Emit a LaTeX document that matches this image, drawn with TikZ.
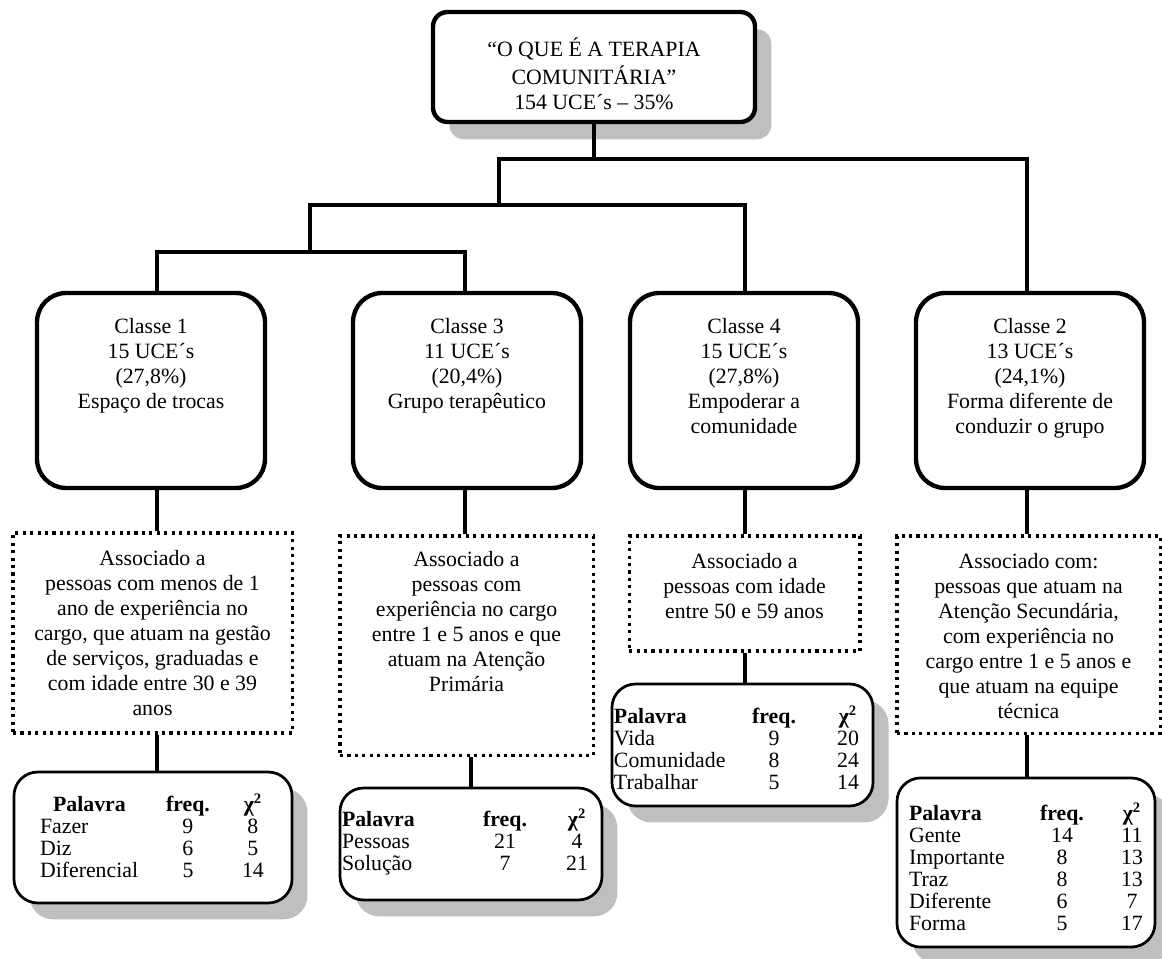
\documentclass[tikz,border=0pt]{standalone}
\usepackage{fontspec}
\setmainfont{Liberation Serif}
\usepackage{array}
\usepackage{tikz}
\usetikzlibrary{shadows}

\newcolumntype{L}[1]{>{\raggedright\arraybackslash}p{#1}}
\newcolumntype{C}[1]{>{\centering\arraybackslash}p{#1}}
% text set from the top of a box of fixed size
\newcommand{\boxtext}[4]{\parbox[c][#1][t]{#2}{\centering\vspace*{#3}\strut #4}}
% word table: height, width, top pad, indent, first column, other columns, header indent, rows
\newcommand{\tabela}[8]{\parbox[c][#1][t]{#2}{\vspace*{#3}\hspace*{#4}\fontsize{12}{12.1}\selectfont%
  \begin{tabular}[t]{@{}L{#5}@{}C{#6}@{}C{#6}@{}}%
  \hspace*{#7}\textbf{Palavra} & \textbf{freq.} & \textbf{χ\textsuperscript{2}}\\
  #8
  \end{tabular}}}

\begin{document}
\begin{tikzpicture}[x=0.55pt, y=-0.55pt,
    every node/.style={inner sep=0pt, font=\fontsize{12}{13.75}\selectfont},
    tema/.style={draw, line width=2.4pt, rounded corners=8pt, fill=white,
      drop shadow={shadow xshift=9pt, shadow yshift=-9.5pt, fill=black!25, opacity=1}},
    classe/.style={draw, line width=2.4pt, rounded corners=16pt},
    assoc/.style={draw, line width=1.7pt, dash pattern=on 1.7pt off 2.4pt},
    tabela/.style={draw, line width=1.5pt, rounded corners=13pt, fill=white,
      drop shadow={shadow xshift=8.5pt, shadow yshift=-9pt, fill=black!25, opacity=1}},
    link/.style={line width=1.8pt}]

    \useasboundingbox (0,0) rectangle (1162,959);

    % tema geral
    \node[tema] (tema) at (594,67)
      {\boxtext{60.5pt}{177.1pt}{14pt}{“O QUE É A TERAPIA\\COMUNITÁRIA”\\154 UCE´s – 35\%}};

    % classes
    \node[classe] (c1) at (151,390.5)
      {\boxtext{107.25pt}{125.4pt}{12.9pt}{Classe 1\\15 UCE´s\\(27,8\%)\\Espaço de trocas}};
    \node[classe] (c3) at (467,390.5)
      {\boxtext{107.25pt}{125.4pt}{12.9pt}{Classe 3\\11 UCE´s\\(20,4\%)\\Grupo terapêutico}};
    \node[classe] (c4) at (744,390.5)
      {\boxtext{107.25pt}{125.4pt}{12.9pt}{Classe 4\\15 UCE´s\\(27,8\%)\\Empoderar a\\comunidade}};
    \node[classe] (c2) at (1030,390.5)
      {\boxtext{107.25pt}{125.4pt}{12.9pt}{Classe 2\\13 UCE´s\\(24,1\%)\\Forma diferente de\\conduzir o grupo}};

    % variaveis associadas
    \node[assoc] (d1) at (152.5,633)
      {\boxtext{110pt}{153.5pt}{8pt}{Associado a\\pessoas com menos de 1\\ano de experiência no\\cargo, que atuam na gestão\\de serviços, graduadas e\\com idade entre 30 e 39\\anos}};
    \node[assoc] (d2) at (466.5,645.5)
      {\boxtext{120.5pt}{139.2pt}{7.4pt}{Associado a\\pessoas com\\experiência no cargo\\entre 1 e 5 anos e que\\atuam na Atenção\\Primária}};
    \node[assoc] (d3) at (744.5,593.5)
      {\boxtext{63.25pt}{127pt}{8.5pt}{Associado a\\pessoas com idade\\entre 50 e 59 anos}};
    \node[assoc] (d4) at (1028.5,634.5)
      {\boxtext{108.4pt}{144.7pt}{8.5pt}{Associado com:\\pessoas que atuam na\\Atenção Secundária,\\com experiência no\\cargo entre 1 e 5 anos e\\que atuam na equipe\\técnica}};

    % palavras
    \node[tabela] (t1) at (153,837.5)
      {\tabela{72pt}{152.9pt}{12.1pt}{14.3pt}{63.5pt}{35.75pt}{7.2pt}
        {Fazer & 9 & 8\\ Diz & 6 & 5\\ Diferencial & 5 & 14}};
    \node[tabela] (t2) at (471,844)
      {\tabela{61.6pt}{144.1pt}{11.3pt}{1.1pt}{69.9pt}{39.6pt}{0pt}
        {Pessoas & 21 & 4\\ Solução & 7 & 21}};
    \node[tabela] (t3) at (742.5,745)
      {\tabela{67.1pt}{143.6pt}{11.9pt}{1.1pt}{67.7pt}{40.7pt}{0pt}
        {Vida & 9 & 20\\ Comunidade & 8 & 24\\ Trabalhar & 5 & 14}};
    \node[tabela] (t4) at (1026,862.5)
      {\tabela{93pt}{141.9pt}{13.5pt}{6.6pt}{64.9pt}{38.5pt}{0pt}
        {Gente & 14 & 11\\ Importante & 8 & 13\\ Traz & 8 & 13\\ Diferente & 6 & 7\\ Forma & 5 & 17}};

    % dendrograma
    \coordinate (ja) at (499,159);
    \coordinate (jb) at (1027,159);
    \coordinate (jc) at (310,205);
    \coordinate (jd) at (745,205);
    \coordinate (je) at (157,252);
    \coordinate (jf) at (465,252);

    \draw[link] (tema.south) -- (tema.south |- ja);
    \draw[link] (c2.north -| jb) -- (jb) -- (ja) -- (ja |- jc);
    \draw[link] (c4.north -| jd) -- (jd) -- (jc) -- (jc |- je);
    \draw[link] (c1.north -| je) -- (je) -- (jf) -- (c3.north -| jf);

    \draw[link] (c1.south -| je) -- (d1.north -| je);
    \draw[link] (c3.south -| jf) -- (d2.north -| jf);
    \draw[link] (c4.south -| jd) -- (d3.north -| jd);
    \draw[link] (c2.south -| jb) -- (d4.north -| jb);

    \draw[link] (d1.south -| je) -- (t1.north -| je);
    \draw[link] (d2.south -| t2.north) -- (t2.north);
    \draw[link] (d3.south -| jd) -- (t3.north -| jd);
    \draw[link] (d4.south -| jb) -- (t4.north -| jb);
\end{tikzpicture}
\end{document}
